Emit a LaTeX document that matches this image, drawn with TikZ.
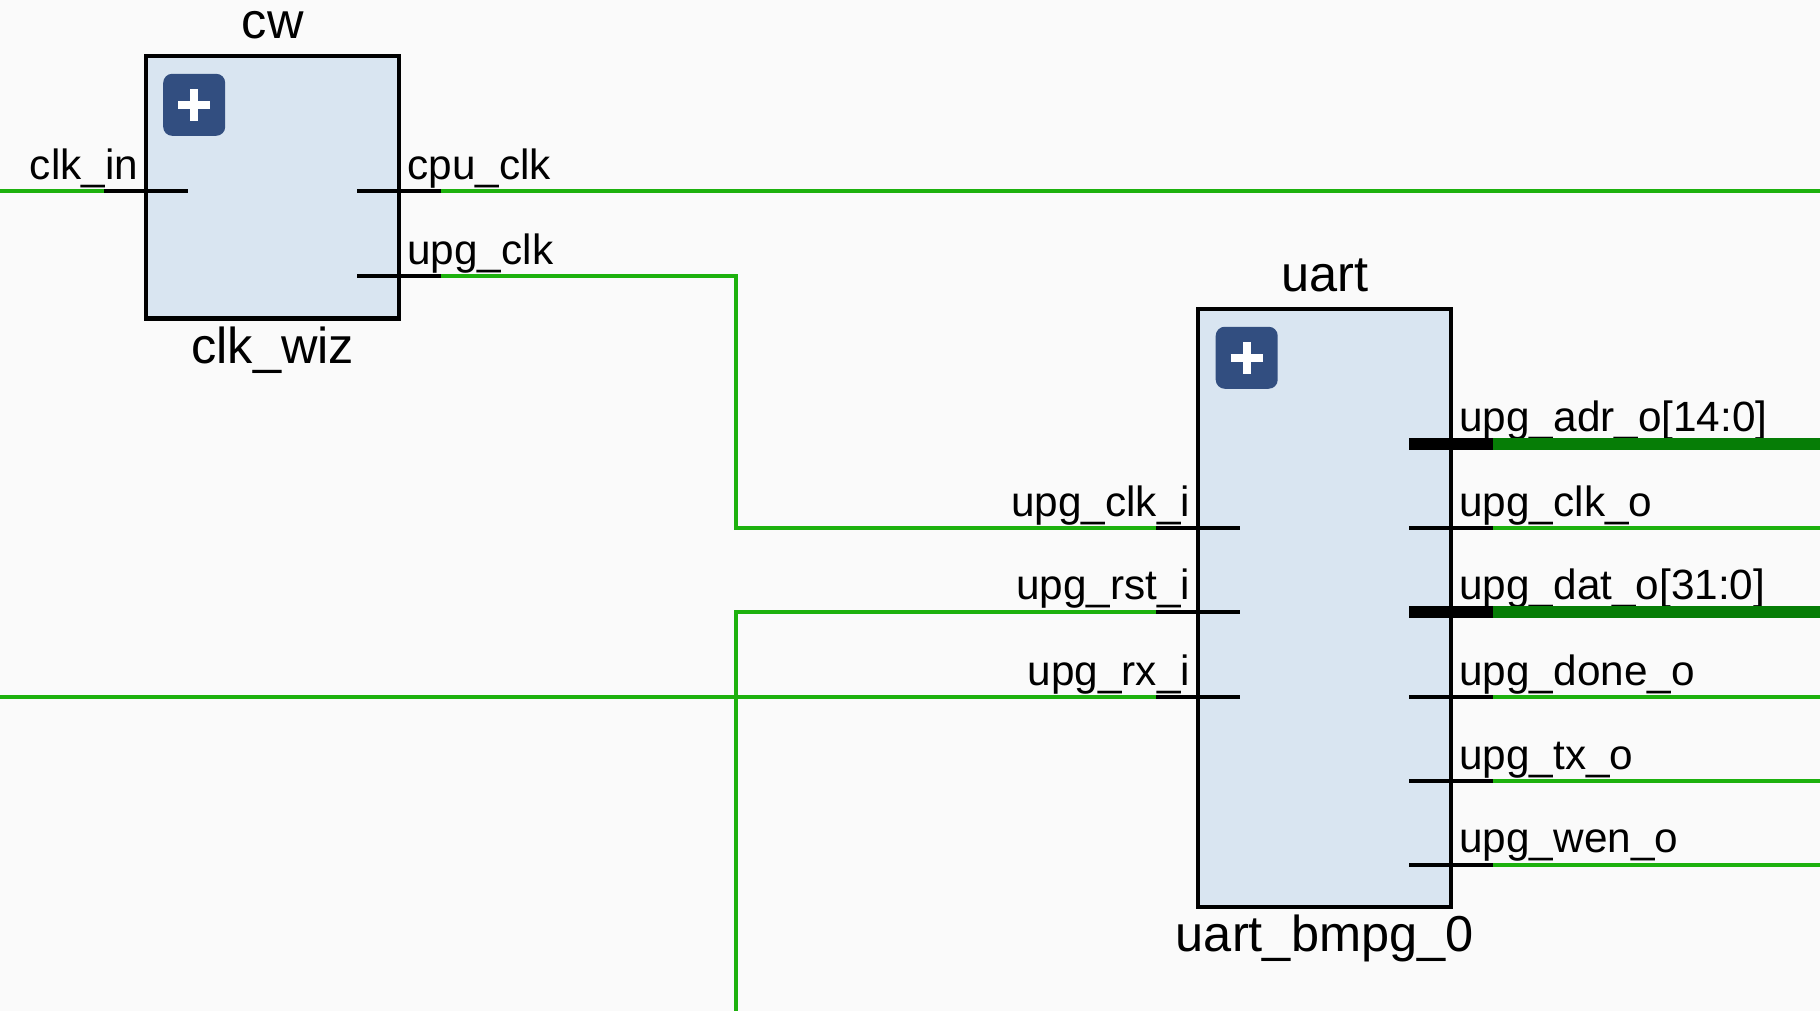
\documentclass[tikz,border=0pt]{standalone}
\usepackage{xcolor}
\usepackage{fontspec}
\setmainfont{Liberation Sans}
\usetikzlibrary{positioning,calc}
\definecolor{pageGray}{HTML}{FAFAFA}
\definecolor{blockBlue}{HTML}{D9E5F1}
\definecolor{plusBlue}{HTML}{324E80}
\definecolor{wireGreen}{HTML}{1DB10E}
\definecolor{busGreen}{HTML}{067D06}
\tikzstyle{blockBox}=[rectangle,draw=black,fill=blockBlue,line width=4.4pt,minimum width=253pt,inner sep=0pt,outer sep=0pt]
\tikzstyle{plusBtn}=[rectangle,fill=plusBlue,rounded corners=9pt,minimum size=62pt,inner sep=0pt,outer sep=0pt,
  path picture={\draw[white,line width=8pt] ([xshift=-16pt]path picture bounding box.center) -- ([xshift=16pt]path picture bounding box.center);
    \draw[white,line width=8pt] ([yshift=-16pt]path picture bounding box.center) -- ([yshift=16pt]path picture bounding box.center);}]
\tikzstyle{blockText}=[inner sep=0pt,font=\fontsize{50.5}{54}\selectfont]
\tikzstyle{pinText}=[inner sep=0pt,font=\fontsize{42.3}{46}\selectfont]
\tikzstyle{wireThin}=[wireGreen,line width=4.4pt]
\tikzstyle{wireBus}=[busGreen,line width=12.6pt]
\tikzstyle{stubThin}=[black,line width=4.4pt]
\tikzstyle{stubBus}=[black,line width=12.6pt]

\begin{document}
\begin{tikzpicture}[x=1pt,y=-1pt,on grid]
      \path[use as bounding box,fill=pageGray] (0,0) rectangle (1820,1011);
      \node[blockBox,minimum height=262pt] (cw) at (272.7,187.3) {};
      \node[blockBox,minimum height=597.5pt] (uart) at (1324.7,608) {};
      \node[plusBtn,anchor=center] (cwPlus) [below right = 48.5pt and 48pt of cw.north west,anchor=center] {};
      \node[plusBtn,anchor=center] (uartPlus) [below right = 48.5pt and 48.5pt of uart.north west,anchor=center] {};
      \node[blockText,above = 17.5pt of cw.north,anchor=base] (cwName) {cw};
      \node[blockText,below = 45pt of cw.south,anchor=base] (cwType) {clk\_wiz};
      \node[blockText,above = 18pt of uart.north,anchor=base] (uartName) {uart};
      \node[blockText,below = 45pt of uart.south,anchor=base] (uartType) {uart\_bmpg\_0};
      % pins on the left edges
      \foreach \pin/\ref/\ydist/\pintext in {clkIn/cw/135/clk\_in,upgClkI/uart/219/upg\_clk\_i,upgRstI/uart/302.7/upg\_rst\_i,upgRxI/uart/388/upg\_rx\_i}{
        \coordinate[below = \ydist pt of \ref.north west] (\pin);
        \draw[stubThin] ([xshift=-42pt]\pin) -- ([xshift=42pt]\pin);
        \node[pinText,above left = 12pt and 8pt of \pin,anchor=base east] (\pin Text) {\pintext};
      }
      % pins on the right edges
      \foreach \pin/\ref/\ydist/\pintext in {cpuClk/cw/135/cpu\_clk,upgClk/cw/219.7/upg\_clk,upgClkO/uart/219/upg\_clk\_o,upgDoneO/uart/388/upg\_done\_o,upgTxO/uart/472/upg\_tx\_o,upgWenO/uart/555.7/upg\_wen\_o}{
        \coordinate[below = \ydist pt of \ref.north east] (\pin);
        \draw[stubThin] ([xshift=-42pt]\pin) -- ([xshift=42pt]\pin);
        \node[pinText,above right = 12pt and 8pt of \pin,anchor=base west] (\pin Text) {\pintext};
      }
      \foreach \pin/\ydist/\pintext in {upgAdrO/134.6/{upg\_adr\_o[14:0]},upgDatO/302.7/{upg\_dat\_o[31:0]}}{
        \coordinate[below = \ydist pt of uart.north east] (\pin);
        \draw[stubBus] ([xshift=-42pt]\pin) -- ([xshift=42pt]\pin);
        \node[pinText,above right = 12pt and 8pt of \pin,anchor=base west] (\pin Text) {\pintext};
      }
      % free ends and the routing column
      \coordinate (leftEdge) at (0,0);
      \coordinate (rightEdge) at (1820,0);
      \coordinate (routeTop) at (736,0);
      \coordinate (routeEnd) at (736,1011);
      % wires
      \draw[wireThin] (leftEdge |- clkIn) -- ([xshift=-42pt]clkIn);
      \draw[wireThin] ([xshift=42pt]cpuClk) -- (rightEdge |- cpuClk);
      \draw[wireThin] ([xshift=42pt]upgClk) -- (routeTop |- upgClk) -- (routeTop |- upgClkI) -- ([xshift=-42pt]upgClkI);
      \draw[wireThin] (routeEnd) -- (routeEnd |- upgRstI) -- ([xshift=-42pt]upgRstI);
      \draw[wireThin] (leftEdge |- upgRxI) -- ([xshift=-42pt]upgRxI);
      \draw[wireBus] ([xshift=42pt]upgAdrO) -- (rightEdge |- upgAdrO);
      \draw[wireThin] ([xshift=42pt]upgClkO) -- (rightEdge |- upgClkO);
      \draw[wireBus] ([xshift=42pt]upgDatO) -- (rightEdge |- upgDatO);
      \draw[wireThin] ([xshift=42pt]upgDoneO) -- (rightEdge |- upgDoneO);
      \draw[wireThin] ([xshift=42pt]upgTxO) -- (rightEdge |- upgTxO);
      \draw[wireThin] ([xshift=42pt]upgWenO) -- (rightEdge |- upgWenO);
    \end{tikzpicture}
\end{document}
